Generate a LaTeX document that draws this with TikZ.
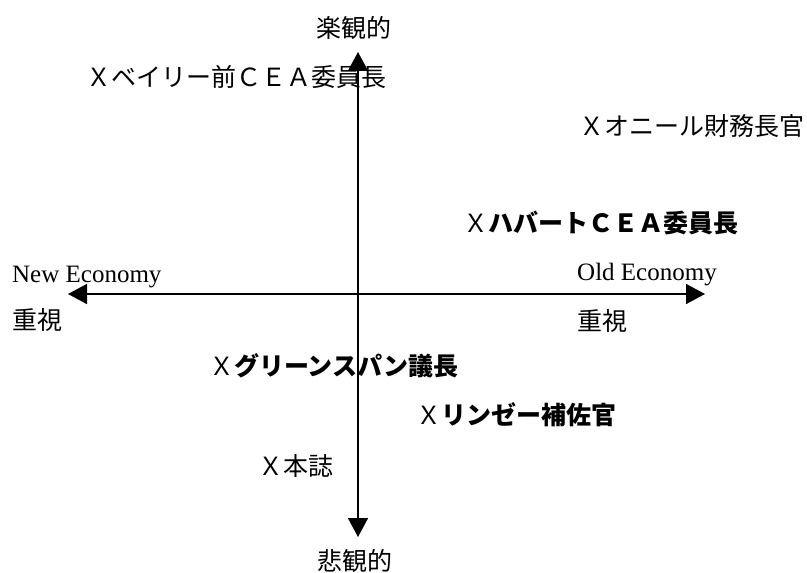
\documentclass[tikz,border=0pt]{standalone}
\usepackage{fontspec}
\setmainfont{Liberation Serif}
\newfontfamily\jpfont{Noto Sans CJK JP}
\usetikzlibrary{arrows.meta}
\tikzset{
  axis/.style={line width=1.5bp, arrows={Triangle[length=19bp,width=20bp]-Triangle[length=19bp,width=20bp]}},
  jp/.style={anchor=base west, inner sep=0pt, font=\jpfont\fontsize{25bp}{30bp}\selectfont},
  en/.style={anchor=base west, inner sep=0pt, font=\fontsize{25bp}{30bp}\selectfont},
}
\begin{document}
\begin{tikzpicture}[x=1bp,y=-1bp]
\useasboundingbox (0,0) rectangle (807,573);
\coordinate (top) at (358,52);
\coordinate (bottom) at (358,537);
\coordinate (left) at (68,294);
\coordinate (right) at (705,294);
\draw[axis] (bottom) -- (top);
\draw[axis] (left) -- (right);
\node[jp] (opt) at (316,38) {楽観的};
\node[jp] (pes) at (317,570.5) {悲観的};
\node[en] (newe) at (12,282) {New Economy};
\node[jp] (newj) at (12,329.5) {重視};
\node[en] (olde) at (577,280) {Old Economy};
\node[jp] (oldj) at (577,330.5) {重視};
\node[jp] (bailey) at (86,86.5) {Ｘベイリー前ＣＥＡ委員長};
\node[jp] (oneill) at (579,135.5) {Ｘオニール財務長官};
\node[jp] (hubbard) at (463,232.5) {Ｘ\textbf{ハバートＣＥＡ委員長}};
\node[jp] (greenspan) at (209,375.5) {Ｘ\textbf{グリーンスパン議長}};
\node[jp] (lindsey) at (416,424.5) {Ｘ\textbf{リンゼー補佐官}};
\node[jp] (honshi) at (258,475.5) {Ｘ本誌};
\end{tikzpicture}
\end{document}
